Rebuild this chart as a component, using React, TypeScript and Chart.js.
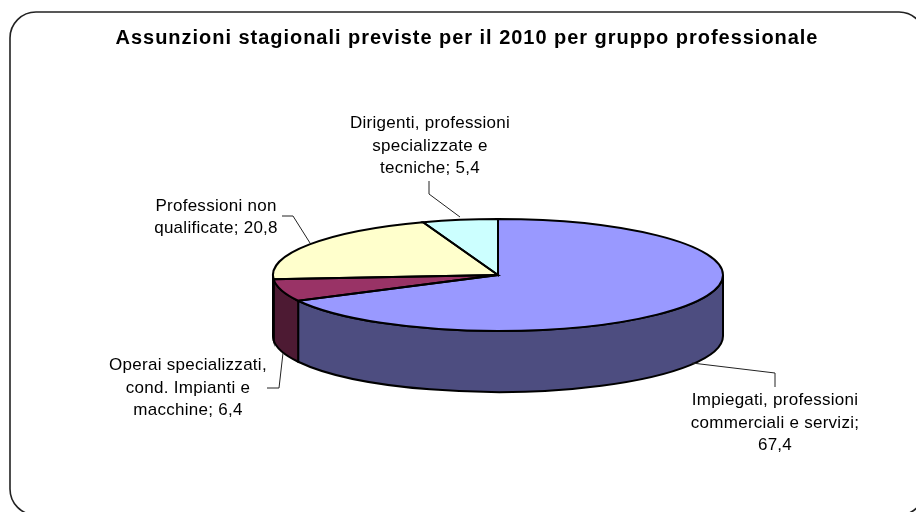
import React, { useEffect, useRef } from "react";
import { Chart, registerables } from "chart.js";

Chart.register(...registerables);

const categories = [
  "Impiegati, professioni commerciali e servizi",
  "Operai specializzati, cond. Impianti e macchine",
  "Professioni non qualificate",
  "Dirigenti, professioni specializzate e tecniche",
];
const values = [67.4, 6.4, 20.8, 5.4];
const topColors = ["#9999FF", "#993366", "#FFFFCC", "#CCFFFF"];
const sideColors = ["#4D4D80", "#4D1A33", "#808066", "#668080"];
const titleText = "Assunzioni stagionali previste per il 2010 per gruppo professionale";
const labelLines = [
  ["Impiegati, professioni", "commerciali e servizi;", "67,4"],
  ["Operai specializzati,", "cond. Impianti e", "macchine; 6,4"],
  ["Professioni non", "qualificate; 20,8"],
  ["Dirigenti, professioni", "specializzate e", "tecniche; 5,4"],
];
const labelCentres = [
  [775, 423],
  [188, 388],
  [216, 217],
  [430, 146],
];
const leaders = [
  [[692, 363], [775, 373], [775, 387]],
  [[283, 353], [279, 388], [267, 388]],
  [[310, 243], [293, 216], [282, 216]],
  [[460, 217], [429, 194], [429, 181]],
];

const SQUASH = 56 / 225;
const DEPTH = 61;
const FONT = '"Liberation Sans", Arial, sans-serif';

const roundedFrame = (ctx: CanvasRenderingContext2D) => {
  const l = 10, t = 12, r = 925, b = 515, rad = 26;
  ctx.save();
  ctx.strokeStyle = "#222";
  ctx.lineWidth = 1.6;
  ctx.beginPath();
  ctx.roundRect(l, t, r - l, b - t, rad);
  ctx.stroke();
  ctx.restore();
};

const pie3d = {
  id: "pie3d",
  beforeDatasetsDraw(chart: any) {
    const ctx: CanvasRenderingContext2D = chart.ctx;
    const arcs = chart.getDatasetMeta(0).data;
    const { x: cx, y: cy, outerRadius: rx } = arcs[0];
    const ry = rx * SQUASH;
    roundedFrame(ctx);
    // title, spaced out as in the reference and centred on the frame
    ctx.save();
    ctx.fillStyle = "#000";
    ctx.font = `bold 20px ${FONT}`;
    (ctx as any).letterSpacing = "0.97px";
    ctx.textAlign = "center";
    ctx.textBaseline = "middle";
    ctx.fillText(titleText, 467, 38);
    ctx.restore();
    // side wall: only the part of each slice on the near half of the rim
    arcs.forEach((arc: any, i: number) => {
      const ranges: [number, number][] = [];
      const s = arc.startAngle, e = arc.endAngle;
      for (const k of [0, 2 * Math.PI, -2 * Math.PI]) {
        const a = Math.max(s + k, 0), b = Math.min(e + k, Math.PI);
        if (b > a) ranges.push([a, b]);
      }
      ranges.forEach(([a, b]) => {
        ctx.beginPath();
        ctx.ellipse(cx, cy, rx, ry, 0, a, b);
        ctx.ellipse(cx, cy + DEPTH, rx, ry, 0, b, a, true);
        ctx.closePath();
        ctx.fillStyle = sideColors[i];
        ctx.strokeStyle = "#000";
        ctx.lineWidth = 2;
        ctx.fill();
        ctx.stroke();
      });
    });
    // the top face is drawn by the pie controller, flattened around the centre
    ctx.save();
    ctx.translate(cx, cy);
    ctx.scale(1, SQUASH);
    ctx.translate(-cx, -cy);
  },
  afterDatasetsDraw(chart: any) {
    const ctx: CanvasRenderingContext2D = chart.ctx;
    ctx.restore();
    const arcs = chart.getDatasetMeta(0).data;
    const { x: cx, y: cy, outerRadius: rx } = arcs[0];
    const ry = rx * SQUASH;
    ctx.strokeStyle = "#000";
    ctx.lineWidth = 2;
    arcs.forEach((arc: any) => {
      ctx.beginPath();
      ctx.moveTo(cx, cy);
      ctx.ellipse(cx, cy, rx, ry, 0, arc.startAngle, arc.endAngle);
      ctx.closePath();
      ctx.stroke();
    });
    // leader lines
    ctx.strokeStyle = "#222";
    ctx.lineWidth = 1;
    leaders.forEach((pts) => {
      ctx.beginPath();
      pts.forEach(([x, y], j) => (j ? ctx.lineTo(x, y) : ctx.moveTo(x, y)));
      ctx.stroke();
    });
    // data labels
    ctx.save();
    ctx.fillStyle = "#000";
    ctx.font = `17px ${FONT}`;
    (ctx as any).letterSpacing = "0.27px";
    ctx.textAlign = "center";
    ctx.textBaseline = "middle";
    labelLines.forEach((lines, i) => {
      const [x, y] = labelCentres[i];
      lines.forEach((t, j) => {
        ctx.fillText(t, x, y + (j - (lines.length - 1) / 2) * 22.3);
      });
    });
    ctx.restore();
  },
};

export default function App() {
  const ref = useRef<HTMLCanvasElement>(null);
  useEffect(() => {
    document.body.style.margin = "0";
    document.body.style.background = "#fff";
    const chart = new Chart(ref.current!, {
      type: "pie",
      data: {
        labels: categories,
        datasets: [
          {
            data: values,
            backgroundColor: topColors,
            borderWidth: 0,
            radius: 225,
          },
        ],
      },
      options: {
        responsive: false,
        animation: false,
        layout: { padding: { left: 80, top: 38, bottom: 0, right: 0 } },
        plugins: {
          legend: { display: false },
          tooltip: { enabled: false },
          title: { display: false },
        },
      },
      plugins: [pie3d],
    });
    return () => chart.destroy();
  }, []);
  return <canvas ref={ref} width={916} height={512} style={{ display: "block" }} />;
}
